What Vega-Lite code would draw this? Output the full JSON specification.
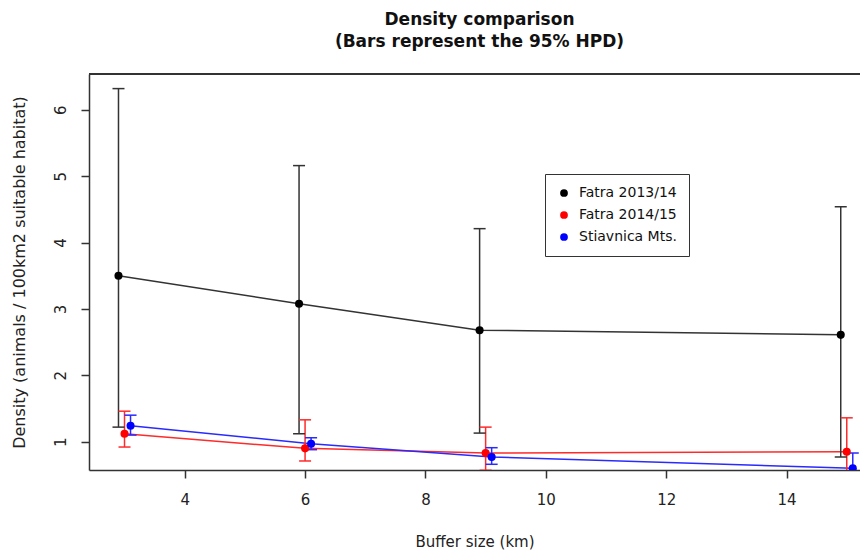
{
  "$schema": "https://vega.github.io/schema/vega-lite/v6.json",
  "width": 771,
  "height": 396,
  "autosize": {"type": "none"},
  "padding": {"left": 89, "top": 74, "right": 0, "bottom": 80},
  "background": "white",
  "title": {
    "text": ["Density comparison", "(Bars represent the 95% HPD)"],
    "font": "DejaVu Sans",
    "fontSize": 17,
    "fontWeight": "bold",
    "lineHeight": 22,
    "color": "#111",
    "anchor": "middle",
    "offset": 22,
    "dx": 5
  },
  "config": {
    "view": {"stroke": null},
    "axis": {
      "labelFont": "DejaVu Sans",
      "labelFontSize": 15,
      "labelColor": "#222",
      "titleFont": "DejaVu Sans",
      "titleFontSize": 15,
      "titleFontWeight": "normal",
      "titleColor": "#222",
      "grid": false,
      "domainColor": "#333",
      "domainWidth": 1.5,
      "tickColor": "#333",
      "tickWidth": 1.5,
      "tickSize": 8
    }
  },
  "data": {
    "values": [
      {"series": "Fatra 2013/14", "buffer": 2.9, "density": 3.50, "lower": 1.22, "upper": 6.32},
      {"series": "Fatra 2013/14", "buffer": 5.9, "density": 3.08, "lower": 1.12, "upper": 5.16},
      {"series": "Fatra 2013/14", "buffer": 8.9, "density": 2.68, "lower": 1.13, "upper": 4.21},
      {"series": "Fatra 2013/14", "buffer": 14.9, "density": 2.61, "lower": 0.77, "upper": 4.54},
      {"series": "Fatra 2014/15", "buffer": 3.0, "density": 1.12, "lower": 0.92, "upper": 1.46},
      {"series": "Fatra 2014/15", "buffer": 6.0, "density": 0.90, "lower": 0.71, "upper": 1.33},
      {"series": "Fatra 2014/15", "buffer": 9.0, "density": 0.83, "lower": 0.57, "upper": 1.22},
      {"series": "Fatra 2014/15", "buffer": 15.0, "density": 0.85, "lower": 0.50, "upper": 1.36},
      {"series": "Stiavnica Mts.", "buffer": 3.1, "density": 1.24, "lower": 1.10, "upper": 1.40},
      {"series": "Stiavnica Mts.", "buffer": 6.1, "density": 0.97, "lower": 0.88, "upper": 1.06},
      {"series": "Stiavnica Mts.", "buffer": 9.1, "density": 0.77, "lower": 0.66, "upper": 0.91},
      {"series": "Stiavnica Mts.", "buffer": 15.1, "density": 0.60, "lower": 0.45, "upper": 0.83}
    ]
  },
  "encoding": {
    "x": {
      "field": "buffer",
      "type": "quantitative",
      "scale": {"domain": [2.41, 15.22], "nice": false, "zero": false},
      "axis": {
        "title": "Buffer size (km)",
        "values": [4, 6, 8, 10, 12, 14],
        "labelPadding": 14,
        "titlePadding": 27,
        "domain": true
      }
    },
    "y": {
      "field": "density",
      "type": "quantitative",
      "scale": {"domain": [0.574, 6.54], "nice": false, "zero": false},
      "axis": {
        "title": "Density (animals / 100km2 suitable habitat)",
        "titleFontSize": 16,
        "values": [1, 2, 3, 4, 5, 6],
        "labelAngle": -90,
        "labelAlign": "center",
        "labelBaseline": "bottom",
        "labelPadding": 13,
        "titlePadding": 26,
        "domain": true
      }
    }
  },
  "layer": [
    {
      "mark": {"type": "line", "strokeWidth": 1.5, "clip": true},
      "encoding": {
        "stroke": {
          "field": "series",
          "type": "nominal",
          "scale": {"range": ["#333333", "#ff2a2a", "#2a2aff"]},
          "legend": null
        }
      }
    },
    {
      "mark": {"type": "rule", "strokeWidth": 1.5, "clip": true},
      "encoding": {
        "y": {"field": "lower", "type": "quantitative"},
        "y2": {"field": "upper"},
        "stroke": {
          "field": "series",
          "type": "nominal",
          "scale": {"range": ["#333333", "#ff2a2a", "#2a2aff"]},
          "legend": null
        }
      }
    },
    {
      "mark": {"type": "tick", "orient": "horizontal", "size": 12, "thickness": 1.5, "opacity": 1, "clip": true},
      "encoding": {
        "y": {"field": "upper", "type": "quantitative"},
        "fill": {
          "field": "series",
          "type": "nominal",
          "scale": {"range": ["#333333", "#ff2a2a", "#2a2aff"]},
          "legend": null
        }
      }
    },
    {
      "mark": {"type": "tick", "orient": "horizontal", "size": 12, "thickness": 1.5, "opacity": 1, "clip": true},
      "encoding": {
        "y": {"field": "lower", "type": "quantitative"},
        "fill": {
          "field": "series",
          "type": "nominal",
          "scale": {"range": ["#333333", "#ff2a2a", "#2a2aff"]},
          "legend": null
        }
      }
    },
    {
      "mark": {"type": "point", "shape": "circle", "filled": true, "size": 65, "opacity": 1, "clip": true},
      "encoding": {
        "color": {
          "field": "series",
          "type": "nominal",
          "scale": {"domain": ["Fatra 2013/14", "Fatra 2014/15", "Stiavnica Mts."], "range": ["#000000", "#ff0000", "#0000ff"]},
          "legend": {
            "title": null,
            "orient": "none",
            "legendX": 456,
            "legendY": 100,
            "strokeColor": "#333",
            "fillColor": "white",
            "padding": 12,
            "rowPadding": 8,
            "symbolType": "circle",
            "symbolSize": 60,
            "symbolStrokeWidth": 0,
            "labelFont": "DejaVu Sans",
            "labelFontSize": 14,
            "labelColor": "#111",
            "labelOffset": 8
          }
        }
      }
    },
    {
      "mark": {"type": "rule", "stroke": "#333", "strokeWidth": 1.5},
      "encoding": {
        "x": null,
        "y": {"datum": 6.54, "type": "quantitative"}
      }
    }
  ]
}
